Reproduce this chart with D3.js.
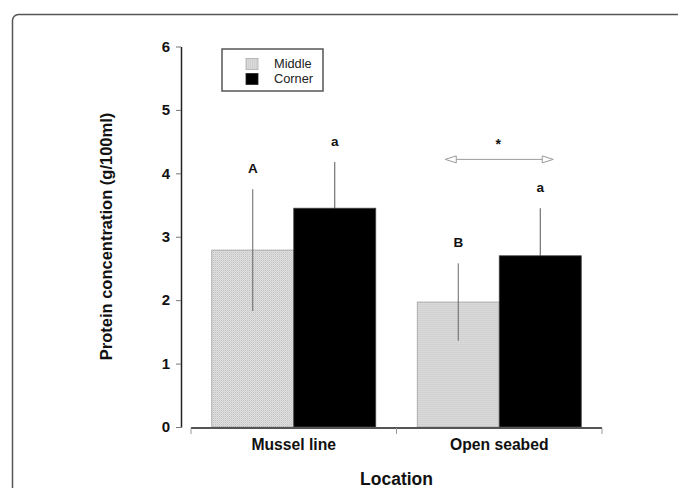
<!DOCTYPE html>
<html>
<head>
<meta charset="utf-8">
<script src="https://cdn.jsdelivr.net/npm/d3@7"></script>
<style>
  html, body { margin: 0; padding: 0; background: #fff; }
  svg { display: block; font-family: "Liberation Sans", Arial, sans-serif; }
</style>
</head>
<body>
<svg id="chart" width="678" height="488"></svg>
<script>
// Data
const locations = ['Mussel line', 'Open seabed'];
const series = ['Middle', 'Corner'];
const middleValues = [2.79, 1.97];
const middleErrors = [0.96, 0.61];
const cornerValues = [3.45, 2.70];
const cornerErrors = [0.73, 0.75];
const middleLetters = ['A', 'B'];
const cornerLetters = ['a', 'a'];
const yTicks = [0, 1, 2, 3, 4, 5, 6];
const starLocation = 'Open seabed';
const starLevel = 4.22;

const svg = d3.select('#chart');
const font = '"Liberation Sans", Arial, sans-serif';

// frame around the figure (runs past the right and bottom edge)
svg.append('path')
  .attr('d', 'M12.5,488 V20.5 A6,6 0 0 1 18.5,14.5 H678')
  .attr('fill', 'none')
  .attr('stroke', '#555')
  .attr('stroke-width', 1.5);

// stipple for the grey bars
const defs = svg.append('defs');
const pat = defs.append('pattern')
  .attr('id', 'stipple')
  .attr('patternUnits', 'userSpaceOnUse')
  .attr('width', 2).attr('height', 2);
pat.append('rect').attr('width', 2).attr('height', 2).attr('fill', '#e0e0e0');
pat.append('rect').attr('width', 1).attr('height', 1).attr('fill', '#c2c2c2');
pat.append('rect').attr('x', 1).attr('y', 1).attr('width', 1).attr('height', 1).attr('fill', '#d2d2d2');

const y = d3.scaleLinear().domain([0, 6]).range([427, 46.5]);

const x0 = d3.scaleBand()
  .domain(locations)
  .range([191, 602])
  .padding(0);

const barW = 82;
const x1 = d3.scaleBand()
  .domain(series)
  .range([x0.bandwidth() / 2 - barW, x0.bandwidth() / 2 + barW])
  .padding(0);

const rows = locations.map((loc, i) => ({
  loc,
  bars: [
    {s: 'Middle', v: middleValues[i], e: middleErrors[i], letter: middleLetters[i]},
    {s: 'Corner', v: cornerValues[i], e: cornerErrors[i], letter: cornerLetters[i]}
  ]
}));

// y axis
const yAxis = d3.axisLeft(y)
  .tickValues(yTicks)
  .tickFormat(d3.format('d'))
  .tickSize(5)
  .tickSizeOuter(0)
  .tickPadding(6);

const axisY = svg.append('g')
  .attr('transform', 'translate(181,0)')
  .call(yAxis);
axisY.select('.domain').attr('stroke', '#222').attr('stroke-width', 1.5);
axisY.selectAll('.tick line').attr('stroke', '#777');
axisY.selectAll('.tick text')
  .attr('fill', '#111')
  .style('font-family', font)
  .style('font-size', '15px')
  .style('font-weight', 'bold');

const groups = svg.append('g')
  .selectAll('g')
  .data(rows)
  .join('g')
  .attr('transform', d => `translate(${x0(d.loc)},0)`);

const errX = d => x1(d.s) + x1.bandwidth() / 2;

// error bars of the black bars sit behind them (lower half hidden)
groups.selectAll('line.errBack')
  .data(d => d.bars.filter(b => b.s === 'Corner'))
  .join('line')
  .attr('class', 'errBack')
  .attr('x1', errX).attr('x2', errX)
  .attr('y1', d => y(d.v + d.e))
  .attr('y2', d => y(d.v - d.e))
  .attr('stroke', '#555')
  .attr('stroke-width', 1);

// bars
groups.selectAll('rect')
  .data(d => d.bars)
  .join('rect')
  .attr('x', d => x1(d.s))
  .attr('y', d => y(d.v))
  .attr('width', x1.bandwidth())
  .attr('height', d => y(0) - y(d.v))
  .attr('fill', d => d.s === 'Middle' ? 'url(#stipple)' : '#000')
  .attr('stroke', d => d.s === 'Middle' ? '#a0a0a0' : '#444')
  .attr('stroke-width', 0.8);

// error bars of the grey bars drawn on top
groups.selectAll('line.errFront')
  .data(d => d.bars.filter(b => b.s === 'Middle'))
  .join('line')
  .attr('class', 'errFront')
  .attr('x1', errX).attr('x2', errX)
  .attr('y1', d => y(d.v + d.e))
  .attr('y2', d => y(d.v - d.e))
  .attr('stroke', '#666')
  .attr('stroke-width', 1);

// significance letters
groups.selectAll('text.letter')
  .data(d => d.bars)
  .join('text')
  .attr('class', 'letter')
  .attr('x', errX)
  .attr('y', d => y(d.v + d.e) - 16)
  .attr('text-anchor', 'middle')
  .attr('fill', '#111')
  .style('font-size', '13.5px')
  .style('font-weight', 'bold')
  .text(d => d.letter);

// x axis
const axisX = svg.append('g').attr('transform', 'translate(0,428)');
axisX.append('line')
  .attr('x1', x0.range()[0]).attr('x2', x0.range()[1])
  .attr('stroke', '#555').attr('stroke-width', 2);
const bounds = locations.map(l => x0(l)).concat([x0.range()[1]]);
axisX.selectAll('line.tk')
  .data(bounds)
  .join('line')
  .attr('class', 'tk')
  .attr('x1', d => d).attr('x2', d => d)
  .attr('y1', 0).attr('y2', 6)
  .attr('stroke', '#999').attr('stroke-width', 1);
axisX.selectAll('text')
  .data(locations)
  .join('text')
  .attr('x', d => x0(d) + x0.bandwidth() / 2)
  .attr('y', 22)
  .attr('text-anchor', 'middle')
  .attr('fill', '#111')
  .style('font-size', '15.7px')
  .style('font-weight', 'bold')
  .text(d => d);

// axis titles
svg.append('text')
  .attr('x', (x0.range()[0] + x0.range()[1]) / 2)
  .attr('y', 485)
  .attr('text-anchor', 'middle')
  .attr('fill', '#111')
  .style('font-size', '17.5px')
  .style('font-weight', 'bold')
  .text('Location');

svg.append('text')
  .attr('transform', 'translate(112,236.5) rotate(-90)')
  .attr('text-anchor', 'middle')
  .attr('fill', '#111')
  .style('font-size', '16.5px')
  .style('font-weight', 'bold')
  .text('Protein concentration (g/100ml)');

// double-headed arrow with star over Open seabed
const cx = x0(starLocation) + x0.bandwidth() / 2;
const ay = y(starLevel);
const half = 54, headL = 11, headH = 3.5;
const arrow = svg.append('g')
  .attr('fill', '#fff')
  .attr('stroke', '#9a9a9a')
  .attr('stroke-width', 1);
arrow.append('line')
  .attr('x1', cx - half + headL).attr('x2', cx + half - headL)
  .attr('y1', ay).attr('y2', ay);
arrow.append('path')
  .attr('d', `M${cx - half},${ay} L${cx - half + headL},${ay - headH} L${cx - half + headL},${ay + headH} Z`);
arrow.append('path')
  .attr('d', `M${cx + half},${ay} L${cx + half - headL},${ay - headH} L${cx + half - headL},${ay + headH} Z`);
svg.append('text')
  .attr('x', cx - 1)
  .attr('y', ay - 10)
  .attr('text-anchor', 'middle')
  .attr('fill', '#111')
  .style('font-size', '14px')
  .style('font-weight', 'bold')
  .text('*');

// legend
const legend = svg.append('g').attr('transform', 'translate(222,49)');
legend.append('rect')
  .attr('width', 101).attr('height', 42)
  .attr('fill', '#fff')
  .attr('stroke', '#555')
  .attr('stroke-width', 1.5);
const li = legend.selectAll('g.item')
  .data(series)
  .join('g')
  .attr('class', 'item')
  .attr('transform', (d, i) => `translate(24,${9.5 + i * 15})`);
li.append('rect')
  .attr('width', 12).attr('height', 11)
  .attr('fill', d => d === 'Middle' ? 'url(#stipple)' : '#000')
  .attr('stroke', d => d === 'Middle' ? '#aaa' : '#222')
  .attr('stroke-width', 0.8);
li.append('text')
  .attr('x', 28)
  .attr('y', 9.5)
  .attr('fill', '#222')
  .style('font-size', '12.8px')
  .text(d => d);
</script>
</body>
</html>
